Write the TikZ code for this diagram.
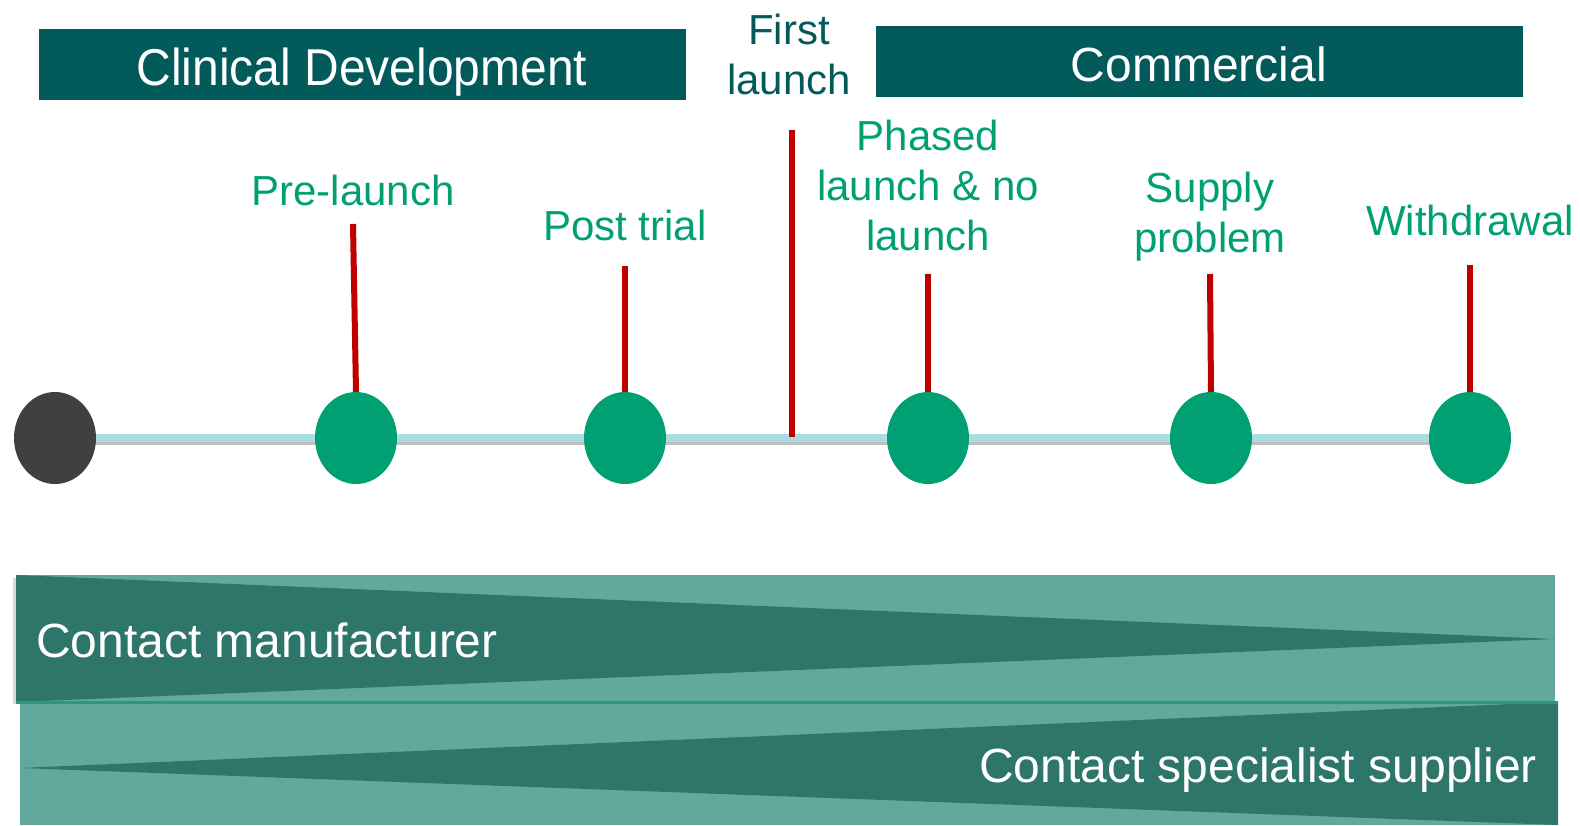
\documentclass[tikz,border=0pt]{standalone}
\usepackage{fontspec}
\setmainfont{Liberation Sans}
\definecolor{hdr}{HTML}{025B5A}
\definecolor{grn}{HTML}{00A073}
\definecolor{redl}{HTML}{C00000}
\definecolor{tline}{HTML}{A8DDE6}
\definecolor{darkc}{HTML}{404040}
\definecolor{bandL}{HTML}{62A99D}
\definecolor{bandD}{HTML}{2F766A}
\definecolor{sepc}{HTML}{2E9582}
\tikzset{
  hdrbox/.style={fill=hdr, draw=none},
  hdrtxt/.style={text=white, font=\fontsize{48}{56}\selectfont, inner sep=0, anchor=base},
  lbl/.style={text=grn, font=\fontsize{42}{50}\selectfont, inner sep=0, anchor=base, align=center},
  dot/.style={ellipse, minimum width=82pt, minimum height=92pt, inner sep=0, draw=none},
  stem/.style={draw=redl, line width=6pt},
  bandtxt/.style={text=white, font=\fontsize{48}{56}\selectfont, inner sep=0, anchor=base}
}
\usetikzlibrary{shapes.geometric}
\begin{document}
\begin{tikzpicture}[x=1pt,y=-1pt]
\useasboundingbox (0,0) rectangle (1580,825);
% headers
\fill[hdrbox] (39,29) rectangle (686,100);
\node[hdrtxt] (clin) at (362,85) {\scalebox{1}[1.08]{Clinical Development}};
\fill[hdrbox] (876,26) rectangle (1523,97);
\node[hdrtxt] (comm) at (1199,81) {Commercial};
\node[lbl, text=hdr] (first1) at (789,44) {First};
\node[lbl, text=hdr] (first2) at (789,94) {launch};
% timeline
\coordinate (tl0) at (55,438);
\coordinate (tl1) at (1470,438);
\draw[line width=8pt, black!25] ([yshift=-3pt]tl0) -- ([yshift=-3pt]tl1);
\draw[line width=8pt, tline] (tl0) -- (tl1);
% first launch stem
\coordinate (fltop) at (792,130);
\coordinate (flbot) at (792,437);
\draw[stem] (fltop) -- (flbot);
% dots
\node[dot, fill=darkc] (d0) at (55,438) {};
\node[dot, fill=grn] (d1) at (356,438) {};
\node[dot, fill=grn] (d2) at (625,438) {};
\node[dot, fill=grn] (d3) at (928,438) {};
\node[dot, fill=grn] (d4) at (1211,438) {};
\node[dot, fill=grn] (d5) at (1470,438) {};
% stems
\coordinate (s1) at (353,224);
\coordinate (s2) at (625,266);
\coordinate (s3) at (928,274);
\coordinate (s4) at (1210,274);
\coordinate (s5) at (1470,265);
\draw[stem] (s1) -- (d1.north);
\draw[stem] (s2) -- (d2.north);
\draw[stem] (s3) -- (d3.north);
\draw[stem] (s4) -- (d4.north);
\draw[stem] (s5) -- (d5.north);
% labels
\node[lbl] (l1) at (353,205) {Pre-launch};
\node[lbl] (l2) at (625,240) {Post trial};
\node[lbl] (l3a) at (928,150) {Phased};
\node[lbl] (l3b) at (928,200) {launch \& no};
\node[lbl] (l3c) at (928,250) {launch};
\node[lbl] (l4a) at (1210,202) {Supply};
\node[lbl] (l4b) at (1210,252) {problem};
\node[lbl] (l5) at (1470,235) {Withdrawal};
% bands
\fill[bandL] (16,575) rectangle (1555,702);
\fill[black!15] (13,578) rectangle (16,704);
\fill[bandD] (16,575) -- (16,702) -- (1555,639) -- cycle;
\fill[bandL] (20,702) rectangle (1558,825);
\fill[bandD] (1558,702) -- (1558,825) -- (20,768) -- cycle;
\draw[sepc, line width=3pt] (16,702) -- (1558,702);
\node[bandtxt, anchor=base west] (cm) at (36,657) {Contact manufacturer};
\node[bandtxt, anchor=base east] (cs) at (1537,782) {Contact specialist supplier};
\end{tikzpicture}
\end{document}
